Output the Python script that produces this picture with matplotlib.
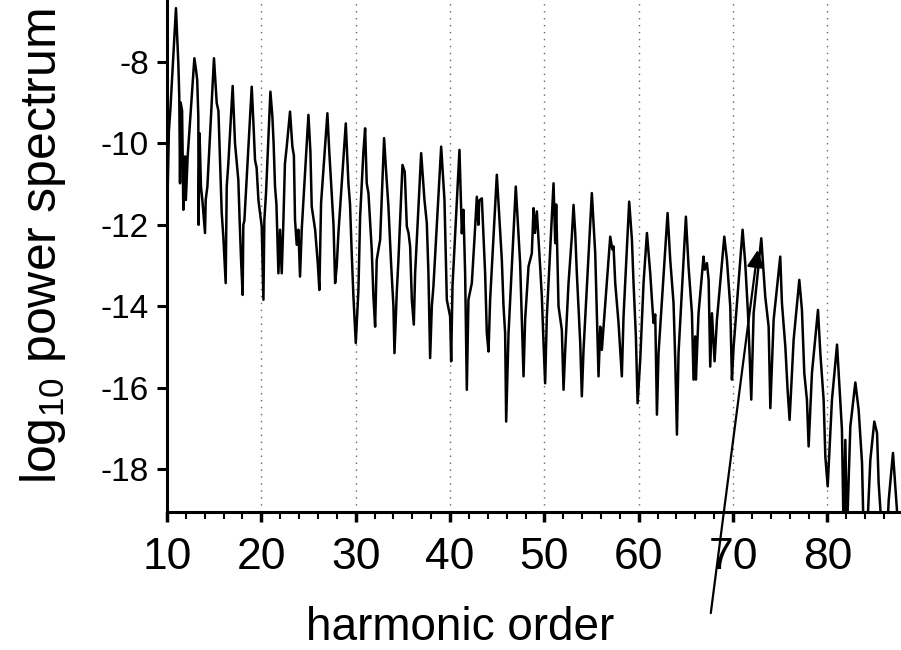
import numpy as np
import matplotlib
matplotlib.use('Agg')
import matplotlib.pyplot as plt

# HARMONIC SPECTRUM (harmonic order vs log10 power)
order = [10.05, 10.2, 10.35, 10.95, 11.2, 11.3, 11.38, 11.45, 11.6, 11.73, 11.91, 12.0, 12.19,
         12.9, 13.08, 13.2, 13.32, 13.35, 13.45, 13.6, 13.75, 14.03, 14.1, 14.28,
         14.98, 15.27, 15.45, 15.62, 15.8, 15.97, 16.22, 16.33, 16.5,
         16.96, 17.21, 17.4, 17.56, 17.7, 17.85, 18.02, 18.09, 18.2,
         18.98, 19.16, 19.33, 19.5, 19.69, 20.04, 20.22, 20.32, 20.5,
         20.96, 21.17, 21.3, 21.45, 21.6, 21.81, 21.98, 22.16, 22.34, 22.5,
         22.69, 23.04, 23.29, 23.45, 23.57, 23.75, 23.93, 24.1, 24.28,
         24.99, 25.2, 25.34, 25.5, 25.7, 25.98, 26.15, 26.33,
         27.0, 27.2, 27.46, 27.65, 27.82, 27.99, 28.17,
         28.95, 29.23, 29.4, 29.58, 29.76, 30.01, 30.29, 30.47,
         30.82, 31.0, 31.17, 31.35, 31.7, 31.88, 32.06, 32.23, 32.59,
         33.01, 33.2, 33.47, 33.75, 34.0, 34.11, 34.35, 34.53,
         34.96, 35.2, 35.42, 35.6, 35.77, 35.95, 36.16, 36.3,
         36.94, 37.29, 37.54, 37.71, 37.89, 38.07, 38.24,
         39.06, 39.41, 39.66, 40.01, 40.12, 40.26,
         41.0, 41.25, 41.42, 41.6, 41.78, 41.95, 42.31, 42.6,
         42.84, 43.0, 43.1, 43.37, 43.72, 43.9, 44.08, 44.25,
         44.96, 45.49, 45.67, 45.84, 45.95, 46.2,
         46.97, 47.43, 47.79, 47.96, 48.32,
         48.67, 48.85, 49.0, 49.2, 49.55, 49.73, 49.91, 50.08, 50.26,
         50.97, 51.15, 51.25, 51.5, 51.85, 52.03, 52.21, 52.56,
         52.91, 53.09, 53.27, 53.44, 53.8, 53.97, 54.15,
         55.03, 55.39, 55.56, 55.74, 55.92, 56.09,
         56.98, 57.2, 57.33, 57.51, 57.86, 58.04, 58.21, 58.39,
         58.99, 59.28, 59.45, 59.7, 59.88, 60.16, 60.51,
         60.87, 61.22, 61.4, 61.57, 61.75, 61.93, 62.1,
         63.06, 63.34, 63.69, 63.87, 64.05, 64.22,
         65.0, 65.28, 65.64, 65.81, 65.99, 66.06, 66.34,
         66.87, 67.0, 67.23, 67.41, 67.58, 67.76, 68.04, 68.29,
         69.07, 69.35, 69.7, 69.88, 70.06,
         71.01, 71.29, 71.58, 71.72, 71.93, 72.18,
         72.99, 73.41, 73.77, 73.95, 74.3,
         75.0, 75.18, 75.54, 75.78, 75.99, 76.42,
         77.02, 77.3, 77.55, 77.83, 78.01, 78.36,
         79.0, 79.25, 79.6, 79.78, 80.03, 80.48,
         81.02, 81.3, 81.54, 81.72, 81.9, 82.07, 82.43,
         82.96, 83.31, 83.67, 83.84, 84.2, 84.55,
         84.97, 85.26, 85.43, 85.79, 86.32, 86.5,
         86.95, 87.2, 87.55, 88.0]

log_power = [-11.4, -9.7, -9.2, -6.68, -8.03, -8.85, -10.98, -9.0, -9.2, -11.63, -10.32, -11.39, -10.32,
             -7.91, -8.2, -8.44, -9.34, -12.0, -9.75, -11.06, -11.4, -12.2, -11.39, -11.06,
             -7.91, -9.01, -9.2, -10.41, -11.71, -12.29, -13.43, -11.06, -10.5,
             -8.59, -10.0, -10.5, -10.9, -11.9, -12.86, -13.72, -12.0, -11.9,
             -8.61, -9.5, -10.41, -10.6, -11.39, -12.04, -13.84, -11.88, -11.2,
             -8.73, -9.34, -10.0, -11.06, -11.5, -13.19, -12.12, -13.19, -11.88, -10.5,
             -10.08, -9.22, -10.08, -10.3, -11.88, -12.49, -12.12, -13.27, -12.12,
             -9.3, -10.2, -11.55, -11.8, -12.12, -12.94, -13.6, -11.47,
             -9.26, -10.2, -11.22, -12.0, -13.43, -13.02, -12.2,
             -9.51, -10.98, -11.5, -12.7, -13.76, -14.9, -13.6, -11.8,
             -10.2, -9.63, -10.98, -11.22, -12.61, -13.76, -14.5, -12.86, -12.37,
             -9.87, -10.6, -11.55, -12.94, -14.0, -15.15, -13.68, -12.86,
             -10.53, -10.7, -12.04, -12.2, -12.53, -13.84, -14.45, -13.19,
             -10.24, -11.39, -11.96, -13.19, -15.27, -14.0, -13.51,
             -10.08, -11.39, -13.84, -14.25, -15.35, -13.51,
             -10.16, -12.21, -11.63, -13.19, -16.05, -13.84, -13.43, -12.3,
             -11.31, -12.0, -11.4, -11.35, -13.19, -14.66, -15.11, -13.84,
             -10.77, -12.86, -14.0, -14.66, -16.83, -14.66,
             -11.06, -12.94, -15.72, -14.33, -13.02,
             -12.7, -11.59, -12.2, -11.67, -13.02, -13.76, -14.9, -15.89, -14.25,
             -10.98, -12.45, -11.5, -14.0, -14.58, -16.05, -15.07, -13.43,
             -12.29, -11.51, -12.2, -13.19, -14.9, -16.21, -15.07,
             -11.22, -12.7, -14.17, -15.72, -14.5, -15.07,
             -12.29, -12.6, -12.53, -13.43, -14.41, -15.07, -15.72, -14.25,
             -11.43, -12.37, -13.43, -14.74, -16.38, -15.31, -13.43,
             -12.2, -13.19, -13.84, -14.41, -14.2, -16.66, -15.15,
             -11.71, -12.86, -13.92, -15.31, -17.15, -15.15,
             -11.8, -13.02, -14.17, -15.8, -14.74, -15.8, -14.17,
             -12.78, -13.1, -12.94, -13.35, -15.48, -14.17, -15.35, -14.33,
             -12.29, -12.86, -14.0, -15.8, -14.99,
             -12.12, -12.94, -14.17, -14.99, -16.29, -14.17,
             -12.33, -13.76, -14.5, -16.5, -14.33,
             -12.78, -13.92, -14.99, -16.05, -16.79, -14.82,
             -13.35, -14.09, -15.64, -16.3, -17.44, -15.64,
             -14.09, -15.15, -16.3, -17.69, -18.42, -16.3,
             -14.94, -16.05, -17.03, -19.6, -17.28, -19.6, -16.95,
             -15.87, -16.54, -17.85, -19.6, -19.6, -17.77,
             -16.83, -17.11, -18.34, -19.6, -19.6, -18.75,
             -17.6, -18.42, -19.6, -19.6]

x_ticks = [10, 20, 30, 40, 50, 60, 70, 80]
y_ticks = [-8, -10, -12, -14, -16, -18]

# arrow (tail below the axis, head on the 73rd harmonic)
arrow_tail = (67.6, -21.6)
arrow_head = (72.65, -12.55)

plt.rcParams['font.family'] = ['Liberation Sans', 'DejaVu Sans']
plt.rcParams['axes.unicode_minus'] = False
plt.rcParams['mathtext.fontset'] = 'custom'
plt.rcParams['mathtext.rm'] = 'Liberation Sans'
plt.rcParams['mathtext.it'] = 'Liberation Sans'
plt.rcParams['mathtext.default'] = 'regular'

fig = plt.figure(figsize=(9.01, 6.5), dpi=100)
ax = fig.add_axes([167 / 901, 138 / 650, 734 / 901, 512 / 650])

ax.plot(order, log_power, color='black', lw=1.8)

ax.set_xlim(10, 87.8)
ax.set_ylim(-19.05, -6.48)

# dotted vertical grid
for x in x_ticks[1:]:
    ax.axvline(x, color='#666666', lw=1.0, ls=(0, (1, 4)), zorder=0)

ax.spines['top'].set_visible(False)
ax.spines['right'].set_visible(False)
ax.spines['left'].set_linewidth(2.2)
ax.spines['bottom'].set_linewidth(2.2)

ax.set_xticks(x_ticks)
ax.set_xticks(np.arange(12, 88, 2), minor=True)
ax.set_yticks(y_ticks)
ax.set_yticklabels([str(v) for v in y_ticks])

ax.tick_params(axis='x', which='major', direction='out', length=7, width=2.5, pad=11,
               labelsize=32)
ax.tick_params(axis='x', which='minor', direction='out', length=5, width=1.5)
ax.tick_params(axis='y', which='major', direction='out', length=7, width=2.2, pad=6,
               labelsize=24)

ax.set_xlabel('harmonic order', fontsize=33)
ax.xaxis.label.set_va('baseline')
ax.xaxis.set_label_coords(0.40, -0.25)
ax.set_ylabel('log$_{10}$ power spectrum', fontsize=36)
ax.yaxis.set_label_coords(-0.135, 0.52)

ax.annotate('', xy=arrow_head, xytext=arrow_tail,
            arrowprops=dict(arrowstyle='-|>', color='black', lw=1.6, mutation_scale=26),
            annotation_clip=False)

fig.savefig('out.png', dpi=100)
